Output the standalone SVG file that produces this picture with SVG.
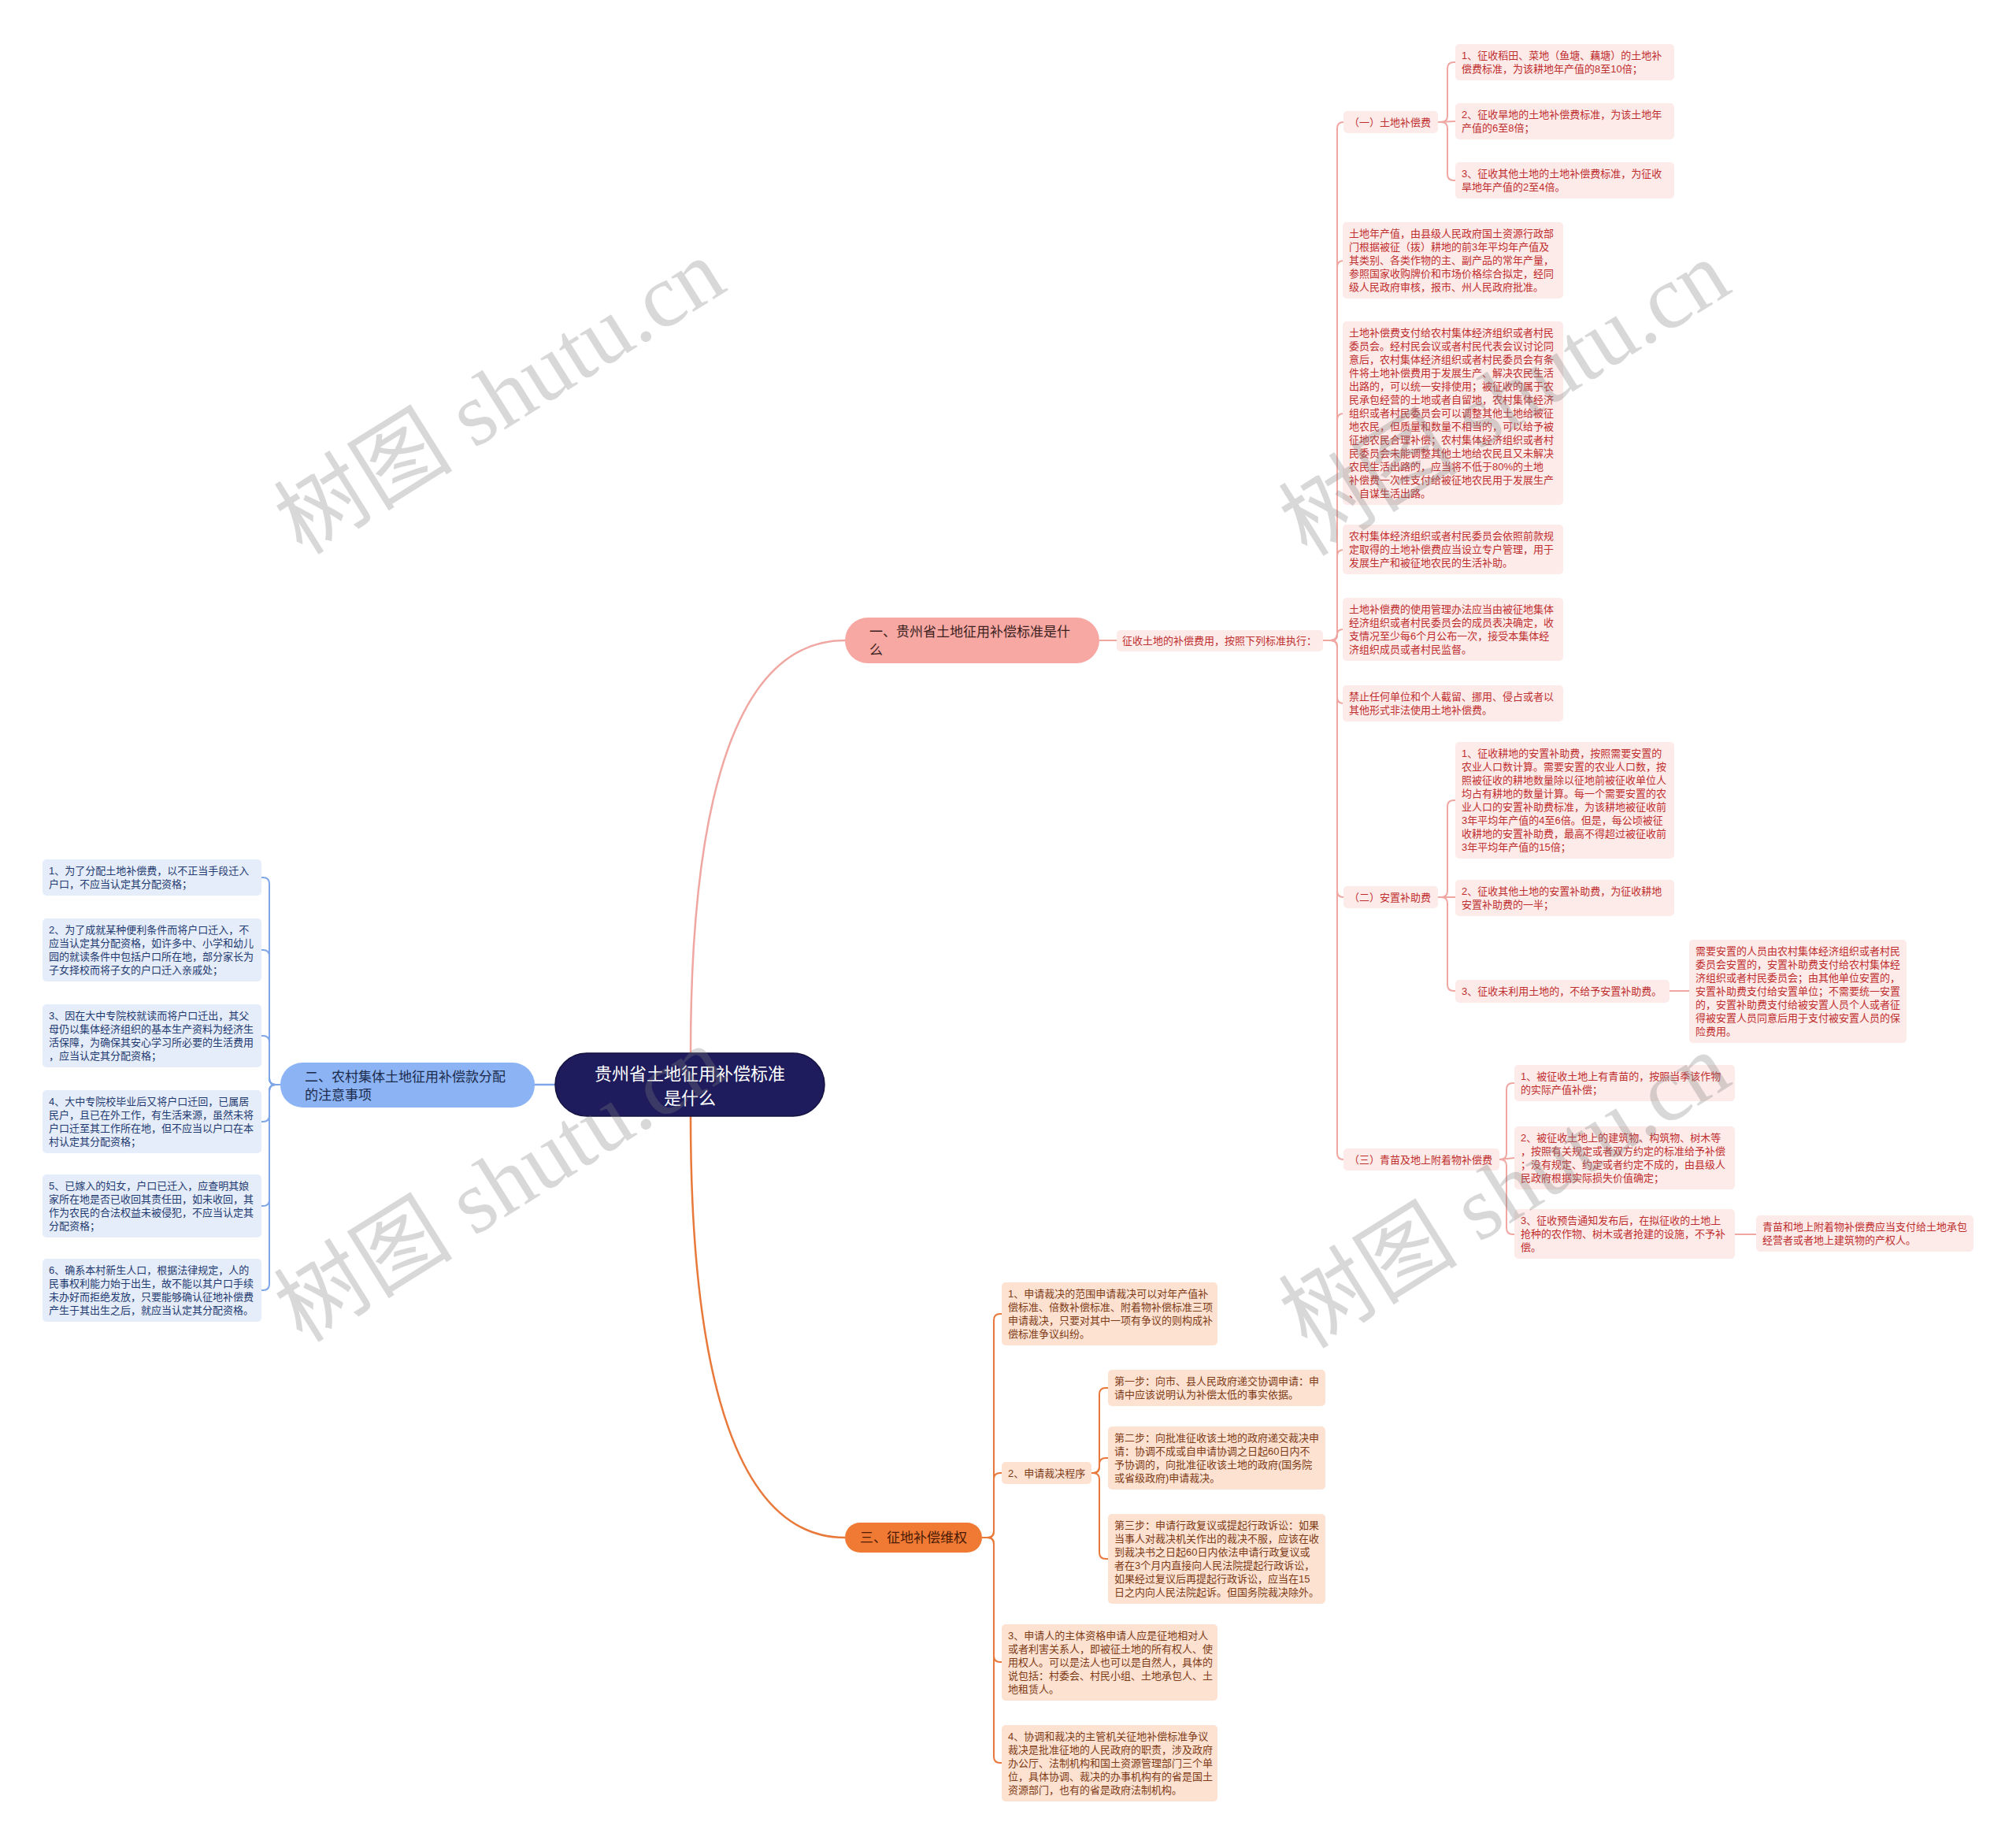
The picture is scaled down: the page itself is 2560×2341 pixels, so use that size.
<svg xmlns="http://www.w3.org/2000/svg" width="2560" height="2341" viewBox="0 0 2560 2341">
<style>
text{font-family:"Liberation Sans","Noto Sans CJK SC",sans-serif;font-size:13px}
.p{fill:#fdebea}.pt{fill:#bf2e2e}
.o{fill:#fde2d2}.ot{fill:#7d3b16}
.b{fill:#e6edfa}.bt{fill:#1e3a70}
.lp{fill:none;stroke:#f0a7a2;stroke-width:2}
.lo{fill:none;stroke:#e8793a;stroke-width:2}
.lb{fill:none;stroke:#7fa6e8;stroke-width:2}
.big{font-size:17px}
.wm{font-family:"Liberation Serif","Noto Sans CJK SC",serif;font-size:114px;fill:#7f7f7f;opacity:.3}
</style>
<rect width="2560" height="2341" fill="#ffffff"/>
<g id="connectors">
<path class="lp" style="stroke-width:2.5" d="M877 1337 C877 1000 940 813 1073 813"/>
<path class="lo" style="stroke-width:2.5" d="M877 1417 C877 1760 940 1952 1073 1952"/>
<path class="lb" style="stroke-width:2.5" d="M705 1377 H679"/>
<path class="lp" d="M1396 813 H1418"/>
<path class="lp" d="M1680 813 H1690 Q1698 813 1698 805 V163 Q1698 155 1706 155"/>
<path class="lp" d="M1680 813 H1690 Q1698 813 1698 805 V339 Q1698 331 1706 331"/>
<path class="lp" d="M1680 813 H1690 Q1698 813 1698 805 V533 Q1698 525 1706 525"/>
<path class="lp" d="M1680 813 H1690 Q1698 813 1698 805 V706 Q1698 698 1706 698"/>
<path class="lp" d="M1680 813 H1691 Q1698 813 1698 806 Q1698 799 1705 799"/>
<path class="lp" d="M1680 813 H1690 Q1698 813 1698 821 V885 Q1698 893 1706 893"/>
<path class="lp" d="M1680 813 H1690 Q1698 813 1698 821 V1131 Q1698 1139 1706 1139"/>
<path class="lp" d="M1680 813 H1690 Q1698 813 1698 821 V1464 Q1698 1472 1706 1472"/>
<path class="lp" d="M1826 155 H1830 Q1838 155 1838 147 V87 Q1838 79 1846 79 H1848"/>
<path class="lp" d="M1826 155 L1848 154"/>
<path class="lp" d="M1826 155 H1830 Q1838 155 1838 163 V221 Q1838 229 1846 229 H1848"/>
<path class="lp" d="M1826 1139 H1830 Q1838 1139 1838 1131 V1024 Q1838 1016 1846 1016 H1848"/>
<path class="lp" d="M1826 1139 H1848"/>
<path class="lp" d="M1826 1139 H1830 Q1838 1139 1838 1147 V1250 Q1838 1258 1846 1258 H1848"/>
<path class="lp" d="M2120 1258 H2145"/>
<path class="lp" d="M1904 1472 H1905 Q1913 1472 1913 1464 V1383 Q1913 1375 1921 1375 H1923"/>
<path class="lp" d="M1904 1472 L1923 1470"/>
<path class="lp" d="M1904 1472 H1905 Q1913 1472 1913 1480 V1559 Q1913 1567 1921 1567 H1923"/>
<path class="lp" d="M2203 1567 H2230"/>
<path class="lb" d="M356 1377 H350 Q342 1377 342 1369 V1122 Q342 1114 334 1114 H332"/>
<path class="lb" d="M356 1377 H350 Q342 1377 342 1369 V1214 Q342 1206 334 1206 H332"/>
<path class="lb" d="M356 1377 H350 Q342 1377 342 1369 V1323 Q342 1315 334 1315 H332"/>
<path class="lb" d="M356 1377 H350 Q342 1377 342 1385 V1416 Q342 1424 334 1424 H332"/>
<path class="lb" d="M356 1377 H350 Q342 1377 342 1385 V1523 Q342 1531 334 1531 H332"/>
<path class="lb" d="M356 1377 H350 Q342 1377 342 1385 V1630 Q342 1638 334 1638 H332"/>
<path class="lo" d="M1247 1952 H1254 Q1262 1952 1262 1944 V1676 Q1262 1668 1270 1668 H1272"/>
<path class="lo" d="M1247 1952 H1254 Q1262 1952 1262 1944 V1878 Q1262 1870 1270 1870 H1272"/>
<path class="lo" d="M1247 1952 H1254 Q1262 1952 1262 1960 V2102 Q1262 2110 1270 2110 H1272"/>
<path class="lo" d="M1247 1952 H1254 Q1262 1952 1262 1960 V2230 Q1262 2238 1270 2238 H1272"/>
<path class="lo" d="M1386 1870 H1388 Q1396 1870 1396 1862 V1770 Q1396 1762 1404 1762 H1407"/>
<path class="lo" d="M1386 1870 H1388 Q1396 1870 1396 1862 V1859 Q1396 1851 1404 1851 H1407"/>
<path class="lo" d="M1386 1870 H1388 Q1396 1870 1396 1878 V1971 Q1396 1979 1404 1979 H1407"/>
</g>

<g id="root"><rect x="705" y="1337" width="342" height="80" rx="40" fill="#1e1c5c" stroke="#14123f" stroke-width="1.5"/>
<text x="876" y="1371" text-anchor="middle" fill="#ffffff" style="font-size:22px">贵州省土地征用补偿标准</text>
<text x="876" y="1402" text-anchor="middle" fill="#ffffff" style="font-size:22px">是什么</text></g>

<g id="n1"><rect x="1073" y="784" width="323" height="58" rx="29" fill="#f8a8a3"/>
<text class="big" x="1104" y="808" fill="#3b1f1f">一、贵州省土地征用补偿标准是什</text>
<text class="big" x="1104" y="831" fill="#3b1f1f">么</text></g>

<g id="n2"><rect x="356" y="1349" width="323" height="57" rx="28" fill="#8cb4f5"/>
<text class="big" x="387" y="1373" fill="#1b2a4a">二、农村集体土地征用补偿款分配</text>
<text class="big" x="387" y="1396" fill="#1b2a4a">的注意事项</text></g>

<g id="n3"><rect x="1073" y="1933" width="174" height="38" rx="19" fill="#f07a34"/>
<text class="big" x="1160" y="1958" text-anchor="middle" fill="#4a1a05">三、征地补偿维权</text></g>

<g id="n1-label"><rect class="p" x="1418" y="800" width="262" height="27" rx="5"/>
<text class="pt" x="1425" y="818">征收土地的补偿费用，按照下列标准执行：</text></g>

<g id="n1-a"><rect class="p" x="1706" y="141" width="120" height="28" rx="5"/>
<text class="pt" x="1713" y="160">（一）土地补偿费</text></g>
<g id="n1-a1"><rect class="p" x="1848" y="56" width="278" height="46" rx="5"/>
<text class="pt"><tspan x="1856" y="75">1、征收稻田、菜地（鱼塘、藕塘）的土地补</tspan><tspan x="1856" y="92">偿费标准，为该耕地年产值的8至10倍；</tspan></text></g>
<g id="n1-a2"><rect class="p" x="1848" y="131" width="278" height="46" rx="5"/>
<text class="pt"><tspan x="1856" y="150">2、征收旱地的土地补偿费标准，为该土地年</tspan><tspan x="1856" y="167">产值的6至8倍；</tspan></text></g>
<g id="n1-a3"><rect class="p" x="1848" y="206" width="278" height="46" rx="5"/>
<text class="pt"><tspan x="1856" y="225">3、征收其他土地的土地补偿费标准，为征收</tspan><tspan x="1856" y="242">旱地年产值的2至4倍。</tspan></text></g>

<g id="n1-p1"><rect class="p" x="1705" y="282" width="280" height="97" rx="5"/>
<text class="pt"><tspan x="1713" y="301">土地年产值，由县级人民政府国土资源行政部</tspan><tspan x="1713" y="318">门根据被征（拨）耕地的前3年平均年产值及</tspan><tspan x="1713" y="335">其类别、各类作物的主、副产品的常年产量，</tspan><tspan x="1713" y="352">参照国家收购牌价和市场价格综合拟定，经同</tspan><tspan x="1713" y="369">级人民政府审核，报市、州人民政府批准。</tspan></text></g>

<g id="n1-p2"><rect class="p" x="1705" y="408" width="280" height="233" rx="5"/>
<text class="pt"><tspan x="1713" y="427">土地补偿费支付给农村集体经济组织或者村民</tspan><tspan x="1713" y="444">委员会。经村民会议或者村民代表会议讨论同</tspan><tspan x="1713" y="461">意后，农村集体经济组织或者村民委员会有条</tspan><tspan x="1713" y="478">件将土地补偿费用于发展生产、解决农民生活</tspan><tspan x="1713" y="495">出路的，可以统一安排使用；被征收的属于农</tspan><tspan x="1713" y="512">民承包经营的土地或者自留地，农村集体经济</tspan><tspan x="1713" y="529">组织或者村民委员会可以调整其他土地给被征</tspan><tspan x="1713" y="546">地农民，但质量和数量不相当的，可以给予被</tspan><tspan x="1713" y="563">征地农民合理补偿；农村集体经济组织或者村</tspan><tspan x="1713" y="580">民委员会未能调整其他土地给农民且又未解决</tspan><tspan x="1713" y="597">农民生活出路的，应当将不低于80%的土地</tspan><tspan x="1713" y="614">补偿费一次性支付给被征地农民用于发展生产</tspan><tspan x="1713" y="631">、自谋生活出路。</tspan></text></g>

<g id="n1-p3"><rect class="p" x="1705" y="666" width="280" height="63" rx="5"/>
<text class="pt"><tspan x="1713" y="685">农村集体经济组织或者村民委员会依照前款规</tspan><tspan x="1713" y="702">定取得的土地补偿费应当设立专户管理，用于</tspan><tspan x="1713" y="719">发展生产和被征地农民的生活补助。</tspan></text></g>

<g id="n1-p4"><rect class="p" x="1705" y="759" width="280" height="80" rx="5"/>
<text class="pt"><tspan x="1713" y="778">土地补偿费的使用管理办法应当由被征地集体</tspan><tspan x="1713" y="795">经济组织或者村民委员会的成员表决确定，收</tspan><tspan x="1713" y="812">支情况至少每6个月公布一次，接受本集体经</tspan><tspan x="1713" y="829">济组织成员或者村民监督。</tspan></text></g>

<g id="n1-p5"><rect class="p" x="1705" y="870" width="280" height="46" rx="5"/>
<text class="pt"><tspan x="1713" y="889">禁止任何单位和个人截留、挪用、侵占或者以</tspan><tspan x="1713" y="906">其他形式非法使用土地补偿费。</tspan></text></g>

<g id="n1-b"><rect class="p" x="1706" y="1125" width="120" height="28" rx="5"/>
<text class="pt" x="1713" y="1144">（二）安置补助费</text></g>
<g id="n1-b1"><rect class="p" x="1848" y="942" width="278" height="148" rx="5"/>
<text class="pt"><tspan x="1856" y="961">1、征收耕地的安置补助费，按照需要安置的</tspan><tspan x="1856" y="978">农业人口数计算。需要安置的农业人口数，按</tspan><tspan x="1856" y="995">照被征收的耕地数量除以征地前被征收单位人</tspan><tspan x="1856" y="1012">均占有耕地的数量计算。每一个需要安置的农</tspan><tspan x="1856" y="1029">业人口的安置补助费标准，为该耕地被征收前</tspan><tspan x="1856" y="1046">3年平均年产值的4至6倍。但是，每公顷被征</tspan><tspan x="1856" y="1063">收耕地的安置补助费，最高不得超过被征收前</tspan><tspan x="1856" y="1080">3年平均年产值的15倍；</tspan></text></g>
<g id="n1-b2"><rect class="p" x="1848" y="1117" width="278" height="46" rx="5"/>
<text class="pt"><tspan x="1856" y="1136">2、征收其他土地的安置补助费，为征收耕地</tspan><tspan x="1856" y="1153">安置补助费的一半；</tspan></text></g>
<g id="n1-b3"><rect class="p" x="1848" y="1244" width="272" height="29" rx="5"/>
<text class="pt" x="1856" y="1263">3、征收未利用土地的，不给予安置补助费。</text></g>
<g id="n1-b3a"><rect class="p" x="2145" y="1193" width="276" height="131" rx="5"/>
<text class="pt"><tspan x="2153" y="1212">需要安置的人员由农村集体经济组织或者村民</tspan><tspan x="2153" y="1229">委员会安置的，安置补助费支付给农村集体经</tspan><tspan x="2153" y="1246">济组织或者村民委员会；由其他单位安置的，</tspan><tspan x="2153" y="1263">安置补助费支付给安置单位；不需要统一安置</tspan><tspan x="2153" y="1280">的，安置补助费支付给被安置人员个人或者征</tspan><tspan x="2153" y="1297">得被安置人员同意后用于支付被安置人员的保</tspan><tspan x="2153" y="1314">险费用。</tspan></text></g>

<g id="n1-c"><rect class="p" x="1706" y="1458" width="198" height="28" rx="5"/>
<text class="pt" x="1713" y="1477">（三）青苗及地上附着物补偿费</text></g>
<g id="n1-c1"><rect class="p" x="1923" y="1352" width="280" height="46" rx="5"/>
<text class="pt"><tspan x="1931" y="1371">1、被征收土地上有青苗的，按照当季该作物</tspan><tspan x="1931" y="1388">的实际产值补偿；</tspan></text></g>
<g id="n1-c2"><rect class="p" x="1923" y="1430" width="280" height="80" rx="5"/>
<text class="pt"><tspan x="1931" y="1449">2、被征收土地上的建筑物、构筑物、树木等</tspan><tspan x="1931" y="1466">，按照有关规定或者双方约定的标准给予补偿</tspan><tspan x="1931" y="1483">；没有规定、约定或者约定不成的，由县级人</tspan><tspan x="1931" y="1500">民政府根据实际损失价值确定；</tspan></text></g>
<g id="n1-c3"><rect class="p" x="1923" y="1535" width="280" height="63" rx="5"/>
<text class="pt"><tspan x="1931" y="1554">3、征收预告通知发布后，在拟征收的土地上</tspan><tspan x="1931" y="1571">抢种的农作物、树木或者抢建的设施，不予补</tspan><tspan x="1931" y="1588">偿。</tspan></text></g>
<g id="n1-c3a"><rect class="p" x="2230" y="1543" width="276" height="46" rx="5"/>
<text class="pt"><tspan x="2238" y="1562">青苗和地上附着物补偿费应当支付给土地承包</tspan><tspan x="2238" y="1579">经营者或者地上建筑物的产权人。</tspan></text></g>

<g id="n2-1"><rect class="b" x="54" y="1091" width="278" height="46" rx="5"/>
<text class="bt"><tspan x="62" y="1110">1、为了分配土地补偿费，以不正当手段迁入</tspan><tspan x="62" y="1127">户口，不应当认定其分配资格；</tspan></text></g>
<g id="n2-2"><rect class="b" x="54" y="1166" width="278" height="80" rx="5"/>
<text class="bt"><tspan x="62" y="1185">2、为了成就某种便利条件而将户口迁入，不</tspan><tspan x="62" y="1202">应当认定其分配资格，如许多中、小学和幼儿</tspan><tspan x="62" y="1219">园的就读条件中包括户口所在地，部分家长为</tspan><tspan x="62" y="1236">子女择校而将子女的户口迁入亲戚处；</tspan></text></g>
<g id="n2-3"><rect class="b" x="54" y="1275" width="278" height="80" rx="5"/>
<text class="bt"><tspan x="62" y="1294">3、因在大中专院校就读而将户口迁出，其父</tspan><tspan x="62" y="1311">母仍以集体经济组织的基本生产资料为经济生</tspan><tspan x="62" y="1328">活保障，为确保其安心学习所必要的生活费用</tspan><tspan x="62" y="1345">，应当认定其分配资格；</tspan></text></g>
<g id="n2-4"><rect class="b" x="54" y="1384" width="278" height="80" rx="5"/>
<text class="bt"><tspan x="62" y="1403">4、大中专院校毕业后又将户口迁回，已属居</tspan><tspan x="62" y="1420">民户，且已在外工作，有生活来源，虽然未将</tspan><tspan x="62" y="1437">户口迁至其工作所在地，但不应当以户口在本</tspan><tspan x="62" y="1454">村认定其分配资格；</tspan></text></g>
<g id="n2-5"><rect class="b" x="54" y="1491" width="278" height="80" rx="5"/>
<text class="bt"><tspan x="62" y="1510">5、已嫁入的妇女，户口已迁入，应查明其娘</tspan><tspan x="62" y="1527">家所在地是否已收回其责任田，如未收回，其</tspan><tspan x="62" y="1544">作为农民的合法权益未被侵犯，不应当认定其</tspan><tspan x="62" y="1561">分配资格；</tspan></text></g>
<g id="n2-6"><rect class="b" x="54" y="1598" width="278" height="80" rx="5"/>
<text class="bt"><tspan x="62" y="1617">6、确系本村新生人口，根据法律规定，人的</tspan><tspan x="62" y="1634">民事权利能力始于出生，故不能以其户口手续</tspan><tspan x="62" y="1651">未办好而拒绝发放，只要能够确认征地补偿费</tspan><tspan x="62" y="1668">产生于其出生之后，就应当认定其分配资格。</tspan></text></g>

<g id="n3-1"><rect class="o" x="1272" y="1628" width="274" height="80" rx="5"/>
<text class="ot"><tspan x="1280" y="1647">1、申请裁决的范围申请裁决可以对年产值补</tspan><tspan x="1280" y="1664">偿标准、倍数补偿标准、附着物补偿标准三项</tspan><tspan x="1280" y="1681">申请裁决，只要对其中一项有争议的则构成补</tspan><tspan x="1280" y="1698">偿标准争议纠纷。</tspan></text></g>
<g id="n3-2"><rect class="o" x="1272" y="1856" width="114" height="28" rx="5"/>
<text class="ot" x="1280" y="1875">2、申请裁决程序</text></g>
<g id="n3-2a"><rect class="o" x="1407" y="1739" width="276" height="46" rx="5"/>
<text class="ot"><tspan x="1415" y="1758">第一步：向市、县人民政府递交协调申请：申</tspan><tspan x="1415" y="1775">请中应该说明认为补偿太低的事实依据。</tspan></text></g>
<g id="n3-2b"><rect class="o" x="1407" y="1811" width="276" height="80" rx="5"/>
<text class="ot"><tspan x="1415" y="1830">第二步：向批准征收该土地的政府递交裁决申</tspan><tspan x="1415" y="1847">请：协调不成或自申请协调之日起60日内不</tspan><tspan x="1415" y="1864">予协调的，向批准征收该土地的政府(国务院</tspan><tspan x="1415" y="1881">或省级政府)申请裁决。</tspan></text></g>
<g id="n3-2c"><rect class="o" x="1407" y="1922" width="276" height="114" rx="5"/>
<text class="ot"><tspan x="1415" y="1941">第三步：申请行政复议或提起行政诉讼：如果</tspan><tspan x="1415" y="1958">当事人对裁决机关作出的裁决不服，应该在收</tspan><tspan x="1415" y="1975">到裁决书之日起60日内依法申请行政复议或</tspan><tspan x="1415" y="1992">者在3个月内直接向人民法院提起行政诉讼，</tspan><tspan x="1415" y="2009">如果经过复议后再提起行政诉讼，应当在15</tspan><tspan x="1415" y="2026">日之内向人民法院起诉。但国务院裁决除外。</tspan></text></g>
<g id="n3-3"><rect class="o" x="1272" y="2062" width="274" height="97" rx="5"/>
<text class="ot"><tspan x="1280" y="2081">3、申请人的主体资格申请人应是征地相对人</tspan><tspan x="1280" y="2098">或者利害关系人，即被征土地的所有权人、使</tspan><tspan x="1280" y="2115">用权人。可以是法人也可以是自然人，具体的</tspan><tspan x="1280" y="2132">说包括：村委会、村民小组、土地承包人、土</tspan><tspan x="1280" y="2149">地租赁人。</tspan></text></g>
<g id="n3-4"><rect class="o" x="1272" y="2190" width="274" height="97" rx="5"/>
<text class="ot"><tspan x="1280" y="2209">4、协调和裁决的主管机关征地补偿标准争议</tspan><tspan x="1280" y="2226">裁决是批准征地的人民政府的职责，涉及政府</tspan><tspan x="1280" y="2243">办公厅、法制机构和国土资源管理部门三个单</tspan><tspan x="1280" y="2260">位，具体协调、裁决的办事机构有的省是国土</tspan><tspan x="1280" y="2277">资源部门，也有的省是政府法制机构。</tspan></text></g>

<g id="watermarks">
<text class="wm" transform="translate(384 706) rotate(-32)">树图 shutu.cn</text>
<text class="wm" transform="translate(1660 708) rotate(-32)">树图 shutu.cn</text>
<text class="wm" transform="translate(384 1706) rotate(-32)">树图 shutu.cn</text>
<text class="wm" transform="translate(1660 1714) rotate(-32)">树图 shutu.cn</text>
</g>
</svg>
